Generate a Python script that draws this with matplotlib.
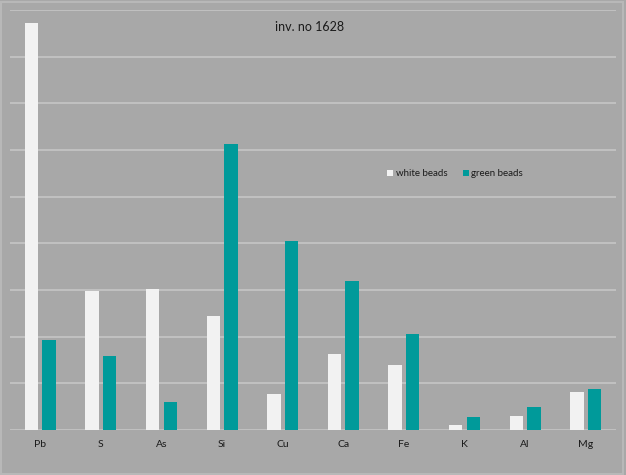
import numpy as np
import matplotlib.pyplot as plt

elements = ['Pb', 'S', 'As', 'Si', 'Cu', 'Ca', 'Fe', 'K', 'Al', 'Mg']
white_beads = [8.72, 2.98, 3.02, 2.44, 0.77, 1.63, 1.39, 0.11, 0.30, 0.81]
green_beads = [1.93, 1.59, 0.59, 6.13, 4.05, 3.19, 2.05, 0.27, 0.49, 0.87]

bg = '#a8a8a8'
white_col = '#f2f2f2'
green_col = '#009a9a'

fig = plt.figure(figsize=(6.26, 4.75), dpi=100, facecolor=bg)
ax = fig.add_axes([10 / 626, 45 / 475, 606 / 626, 420 / 475])
ax.set_facecolor(bg)

x = np.arange(len(elements))
w = 0.22
ax.bar(x - 0.145, white_beads, w, color=white_col, label='white beads', zorder=3)
ax.bar(x + 0.145, green_beads, w, color=green_col, label='green beads', zorder=3)

ax.set_xlim(-0.5, len(elements) - 0.5)
ax.set_ylim(0, 9)
ax.set_yticks(np.arange(0, 10, 1))
ax.yaxis.grid(True, color='#c6c6c6', linewidth=1.2, zorder=0)
ax.set_yticklabels([])
ax.tick_params(axis='y', length=0)
ax.tick_params(axis='x', length=0, pad=7)
ax.set_xticks(x)
ax.set_xticklabels(elements, fontsize=7.5, color='#1a1a1a', family='Lato')
for s in ax.spines.values():
    s.set_visible(False)

fig.text(310 / 626, 1 - 27 / 475, 'inv. no 1628', ha='center', va='center',
         fontsize=9, color='#1a1a1a', family='Lato')

leg = fig.legend(loc='center', bbox_to_anchor=(455 / 626, 1 - 174 / 475),
                 ncol=2, frameon=False, handlelength=0.6,
                 handleheight=0.6, handletextpad=0.3, columnspacing=1.6,
                 prop={'family': 'Lato', 'size': 7})
for t in leg.get_texts():
    t.set_color('#1a1a1a')

# thin lighter frame around the chart
fig.patches.append(plt.Rectangle((0.002, 0.002), 0.994, 0.994, transform=fig.transFigure,
                                 fill=False, edgecolor='#b8b8b8', linewidth=1.5))

fig.savefig('out.png', dpi=100, facecolor=bg)
